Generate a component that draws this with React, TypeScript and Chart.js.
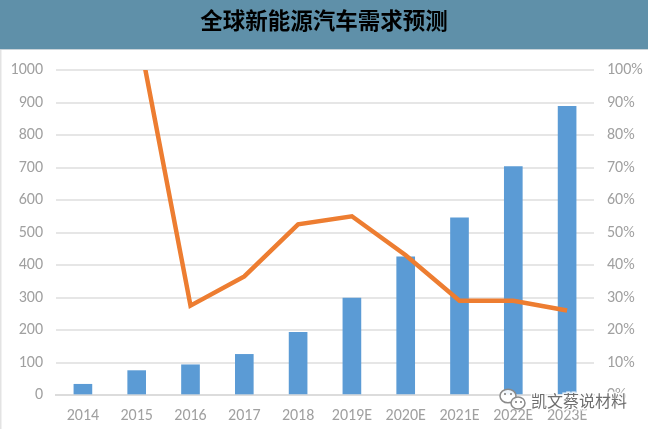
import React, { useEffect, useRef } from "react";
import { Chart, registerables } from "chart.js";

Chart.register(...registerables);

const titleText = "全球新能源汽车需求预测";
const watermarkText = "凯文蔡说材料";
const categories = ["2014", "2015", "2016", "2017", "2018", "2019E", "2020E", "2021E", "2022E", "2023E"];
const demand = [33, 75, 93, 125, 193, 298, 425, 545, 703, 888];
const growth = [null, 114, 27.5, 36.5, 52.5, 55, 43, 29, 29, 26];

const FONT = "Calibri, Carlito, 'Open Sans', 'Noto Sans', sans-serif";

const chrome = {
  id: "chrome",
  beforeDraw(chart: any) {
    const { ctx, width } = chart;
    ctx.save();
    ctx.fillStyle = "#5f90a9";
    ctx.fillRect(0, 0, width, 49);
    ctx.fillStyle = "#c9d3d9";
    ctx.fillRect(0, 49, width, 1);
    ctx.fillStyle = "#e3e3e3";
    ctx.fillRect(0, 50, 1.5, chart.height - 50);
    ctx.restore();
  },
  afterDraw(chart: any) {
    const { ctx } = chart;
    ctx.save();
    ctx.fillStyle = "rgba(255,255,255,0.9)";
    ctx.strokeStyle = "#8a8a8a";
    ctx.lineWidth = 1.5;
    const bubble = (x: number, y: number, r: number) => {
      ctx.beginPath();
      ctx.ellipse(x, y, r, r * 0.85, 0, 0, Math.PI * 2);
      ctx.fill();
      ctx.stroke();
    };
    bubble(508, 396, 8);
    bubble(518, 403, 7);
    ctx.fillStyle = "#7a7a7a";
    [[505, 394], [511, 394], [516, 402], [521, 402]].forEach(([x, y]) => {
      ctx.beginPath();
      ctx.arc(x, y, 1, 0, Math.PI * 2);
      ctx.fill();
    });
    ctx.font = "16px 'Noto Sans CJK SC'";
    ctx.textBaseline = "middle";
    ctx.textAlign = "left";
    ctx.lineWidth = 3;
    ctx.strokeStyle = "rgba(255,255,255,0.85)";
    ctx.strokeText(watermarkText, 531, 401);
    ctx.fillStyle = "#6e6e6e";
    ctx.fillText(watermarkText, 531, 401);
    ctx.restore();
  },
};

export default function App() {
  const ref = useRef<HTMLCanvasElement>(null);

  useEffect(() => {
    document.body.style.margin = "0";
    const chart = new Chart(ref.current!, {
      type: "bar",
      plugins: [chrome],
      data: {
        labels: categories,
        datasets: [
          {
            type: "line",
            label: "增速",
            data: growth,
            yAxisID: "y2",
            borderColor: "#ed7d31",
            borderWidth: 4.5,
            pointRadius: 0,
            tension: 0,
            order: 0,
            spanGaps: false,
          },
          {
            type: "bar",
            label: "需求",
            data: demand,
            yAxisID: "y",
            backgroundColor: "#5b9bd5",
            barThickness: 18,
            order: 1,
          },
        ],
      } as any,
      options: {
        animation: false,
        responsive: false,
        layout: { padding: 0 },
        plugins: {
          legend: { display: false },
          tooltip: { enabled: false },
          title: {
            display: true,
            text: titleText,
            color: "#000000",
            font: { family: "'Noto Sans CJK SC'", size: 22.5, weight: "bold", lineHeight: 1.2 },
            padding: { top: 7, bottom: 36 },
          },
        },
        scales: {
          x: {
            grid: { display: false },
            border: { color: "#dcdcdc", width: 2 },
            ticks: { color: "#a0a0a0", font: { family: FONT, size: 16 }, padding: 3, maxRotation: 0, autoSkip: false },
            afterFit(s: any) { s.height = 34; },
          },
          y: {
            position: "left",
            min: 0,
            max: 1000,
            grid: { color: "#e6e6e6", lineWidth: 2, drawTicks: false },
            border: { display: false },
            ticks: { stepSize: 100, color: "#a0a0a0", font: { family: FONT, size: 16 }, padding: 13, callback: (v: any) => String(v) },
            afterFit(s: any) { s.width = 56; },
          },
          y2: {
            position: "right",
            min: 0,
            max: 100,
            grid: { display: false, drawTicks: false },
            border: { display: false },
            ticks: { stepSize: 10, color: "#a0a0a0", font: { family: FONT, size: 16 }, padding: 13, callback: (v: any) => v + "%" },
            afterFit(s: any) { s.width = 54; },
          },
        },
      } as any,
    });
    return () => chart.destroy();
  }, []);

  return <canvas ref={ref} width={648} height={429} style={{ display: "block", filter: "blur(0.4px)" }} />;
}
